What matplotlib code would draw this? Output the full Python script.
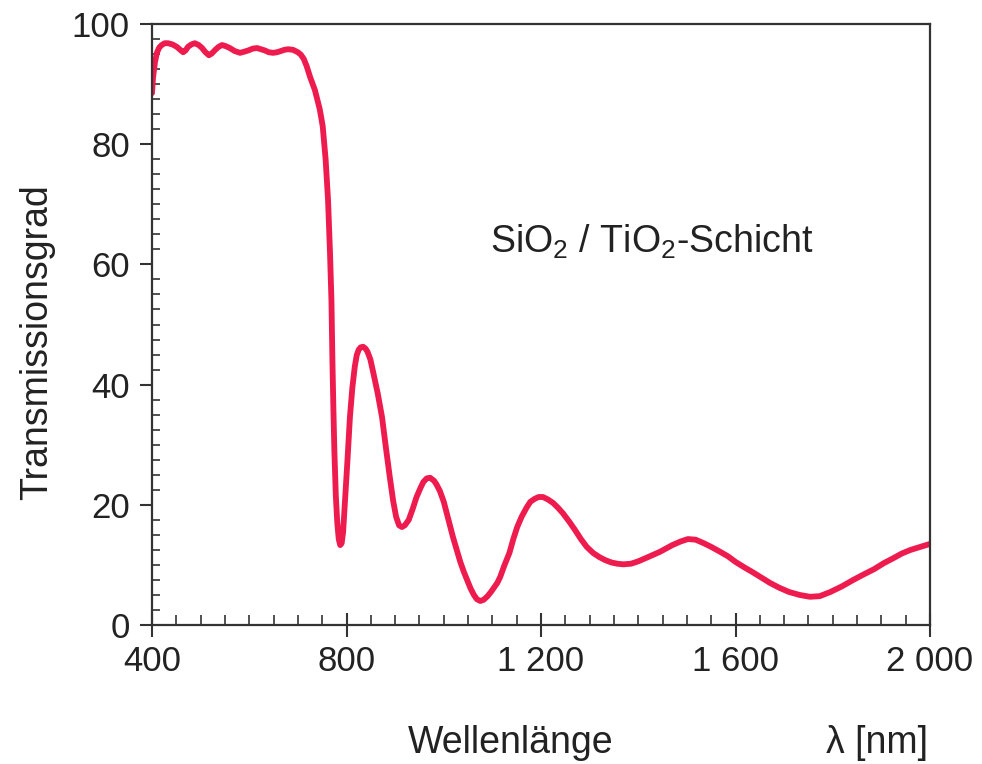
import matplotlib
matplotlib.use("Agg")
import matplotlib.pyplot as plt
from matplotlib.ticker import MultipleLocator

# values
wavelength = [
    400, 402, 406, 410, 415, 420, 426, 433, 442, 451, 458, 464, 469, 474,
    481, 488, 496, 503, 510, 517, 523, 530, 537, 544, 552, 560, 570, 581,
    590, 598, 607, 616, 624, 632, 640, 649, 657, 665, 672, 680, 690, 700,
    706, 712, 718, 725, 735, 745, 751, 757, 762, 766, 769, 771, 773, 775,
    778, 781, 784, 787, 790, 793, 797, 802, 807, 812, 817, 821, 825, 829,
    834, 839, 843, 849, 855, 864, 873, 881, 889, 896, 902, 908, 914, 920,
    928, 936, 944, 952, 958, 965, 972, 980, 985, 992, 1000, 1008, 1019,
    1027, 1034, 1041, 1048, 1055, 1062, 1068, 1075, 1082, 1090, 1097, 1103,
    1110, 1116, 1125, 1135, 1143, 1151, 1160, 1170, 1178, 1187, 1195, 1204,
    1214, 1225, 1235, 1245, 1258, 1270, 1282, 1294, 1307, 1320, 1332, 1345,
    1357, 1369, 1385, 1400, 1420, 1445, 1470, 1487, 1502, 1518, 1535, 1550,
    1568, 1585, 1600, 1618, 1635, 1653, 1671, 1690, 1710, 1732, 1753, 1773,
    1795, 1818, 1842, 1863, 1885, 1905, 1924, 1942, 1960, 1980, 2000,
]
transmission = [
    88.5, 91.0, 93.6, 95.2, 96.1, 96.5, 96.8, 96.8, 96.6, 96.2, 95.7, 95.3,
    95.6, 96.2, 96.6, 96.8, 96.5, 96.0, 95.3, 94.8, 95.1, 95.7, 96.2, 96.5,
    96.3, 96.0, 95.5, 95.2, 95.4, 95.6, 95.9, 96.0, 95.8, 95.6, 95.3, 95.2,
    95.3, 95.5, 95.7, 95.8, 95.7, 95.3, 94.9, 94.2, 93.0, 91.2, 89.0, 85.8,
    83.0, 77.5, 70.7, 62.0, 54.0, 44.0, 36.0, 29.0, 21.5, 17.0, 14.3, 13.3,
    13.6, 15.5, 20.8, 27.5, 34.6, 39.5, 43.0, 44.9, 45.8, 46.2, 46.3, 46.0,
    45.5, 44.2, 42.0, 38.6, 34.6, 29.5, 24.6, 20.6, 18.0, 16.6, 16.3, 16.6,
    17.5, 19.3, 21.3, 22.8, 23.8, 24.4, 24.5, 24.0, 23.4, 22.3, 20.5, 18.0,
    14.6, 12.4, 10.5, 8.9, 7.5, 6.1, 5.0, 4.3, 4.0, 4.2, 4.8, 5.5, 6.2, 7.0,
    8.0, 10.0, 12.0, 14.3, 16.3, 18.0, 19.5, 20.5, 21.0, 21.3, 21.3, 20.9,
    20.3, 19.5, 18.6, 17.2, 15.8, 14.3, 13.0, 12.0, 11.3, 10.8, 10.4, 10.2,
    10.1, 10.2, 10.6, 11.3, 12.2, 13.3, 13.9, 14.3, 14.2, 13.6, 13.0, 12.2,
    11.4, 10.5, 9.6, 8.8, 7.9, 7.0, 6.2, 5.5, 5.0, 4.7, 4.8, 5.5, 6.4, 7.5,
    8.4, 9.3, 10.3, 11.1, 11.9, 12.5, 13.0, 13.5,
]
xticks = [400, 800, 1200, 1600, 2000]
xtick_labels = ["400", "800", "1 200", "1 600", "2 000"]
yticks = [0, 20, 40, 60, 80, 100]

plt.rcParams["font.family"] = ["Liberation Sans", "DejaVu Sans"]
plt.rcParams["mathtext.fontset"] = "custom"
plt.rcParams["mathtext.rm"] = "Liberation Sans"
plt.rcParams["mathtext.it"] = "Liberation Sans"

fig = plt.figure(figsize=(9.82, 7.64), dpi=100)
ax = fig.add_axes([0.1548, 0.1819, 0.7923, 0.7867])

ax.plot(wavelength, transmission, color="#ee1c4e", lw=4.2,
        solid_joinstyle="round", solid_capstyle="round")

ax.set_xlim(400, 2000)
ax.set_ylim(0, 100)

ax.set_xticks(xticks)
ax.set_xticklabels(xtick_labels)
ax.set_yticks(yticks)
ax.xaxis.set_minor_locator(MultipleLocator(50))
ax.yaxis.set_minor_locator(MultipleLocator(2.5))

edge = "#333333"
for sp in ax.spines.values():
    sp.set_color(edge)
    sp.set_linewidth(1.6)

ax.tick_params(axis="x", which="major", direction="inout", length=17,
               width=1.5, color=edge, labelsize=25, labelcolor="#222222", pad=6)
ax.tick_params(axis="x", which="minor", direction="in", length=7,
               width=1.2, color=edge)
ax.tick_params(axis="y", which="major", direction="out", length=9,
               width=1.5, color=edge, labelsize=25, labelcolor="#222222", pad=7)
ax.tick_params(axis="y", which="minor", direction="in", length=6,
               width=1.2, color=edge)

ax.text(1428, 63.7, r"SiO$_\mathrm{2}$ / TiO$_\mathrm{2}$-Schicht",
        fontsize=27, ha="center", va="center", color="#222222")

fig.text(0.038, 0.552, "Transmissionsgrad", rotation=90, fontsize=27,
         ha="center", va="center", color="#222222")
fig.text(0.520, 0.027, "Wellenlänge", fontsize=27, ha="center",
         va="center", color="#222222")
fig.text(0.945, 0.027, "λ [nm]", fontsize=27, ha="right", va="center",
         color="#222222")

fig.savefig("out.png", dpi=100)
